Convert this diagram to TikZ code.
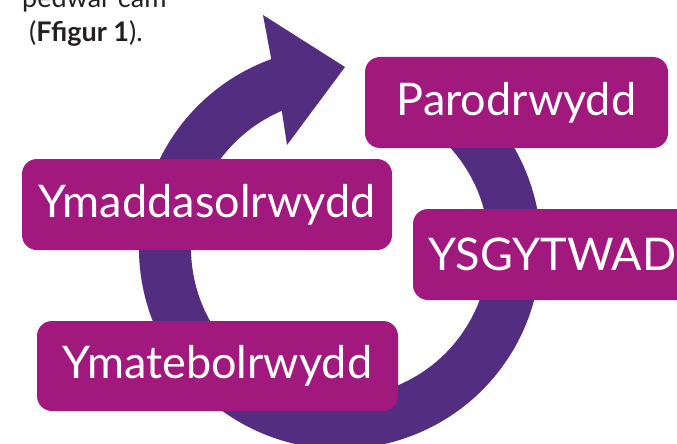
\documentclass[tikz,border=0pt]{standalone}
\usepackage{fontspec}
\setmainfont{Lato}
\usetikzlibrary{positioning}
\definecolor{ringpurple}{RGB}{82,45,128}
\definecolor{boxmagenta}{RGB}{161,25,124}
\definecolor{textgrey}{RGB}{35,31,32}
\tikzset{
  stage/.style={fill=boxmagenta,text=white,rounded corners=15pt,
    minimum height=91pt,inner sep=0pt,font=\fontsize{45}{50}\selectfont},
  intro/.style={anchor=base west,text=textgrey,inner sep=0pt,
    font=\fontsize{27}{30}\selectfont}
}

\begin{document}
\begin{tikzpicture}[x=1pt,y=1pt]
      \clip (0,0) rectangle (677,-444);

      \node[intro] (cam) at (22,-8) {pedwar cam};
      \node[intro] (ffig) at (29,-42) {(\textbf{Ffigur 1}).};

      % the cycle arrow
      \coordinate (c) at (340,-248);
      \fill[ringpurple,shift={(c)}] (113:149pt) -- (-53,103) -- (5,181) -- (-77,233)
        -- (110:201pt) arc[start angle=110,end angle=420,radius=201pt]
        -- (60:149pt) arc[start angle=420,end angle=113,radius=149pt] -- cycle;

      \node[stage,minimum width=303pt] (parod) at (516.5,-102.5) {Parodrwydd};
      \node[stage,minimum width=370pt] (ymadd) at (207,-204.5) {Ymaddasolrwydd};
      \node[stage,minimum width=279pt] (ysgyt) at (552.5,-254.5) {YSGYTWAD};
      \node[stage,minimum width=361pt,minimum height=90pt] (ymateb) at (217.5,-366) {Ymatebolrwydd};
\end{tikzpicture}
\end{document}
